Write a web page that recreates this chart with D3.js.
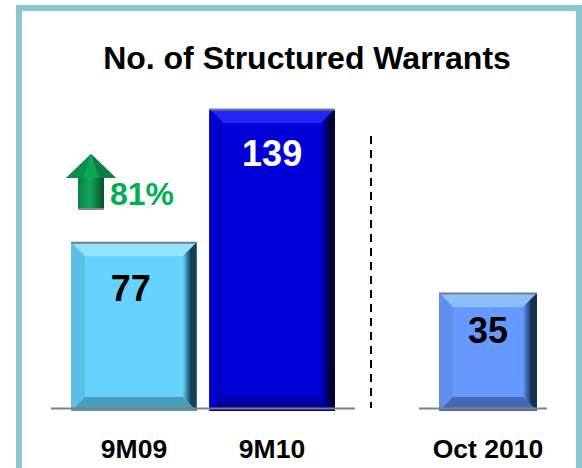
<!DOCTYPE html>
<html><head><meta charset="utf-8">
<script src="https://cdn.jsdelivr.net/npm/d3@7"></script>
<style>html,body{margin:0;padding:0;background:#fff;overflow:hidden}svg{display:block}text{font-family:"Liberation Sans",Arial,sans-serif;font-weight:bold}</style>
</head><body><svg id="c" width="582" height="468"></svg>
<script>
const title = "No. of Structured Warrants";
const periodCategories = ["9M09", "9M10"];
const periodValues = [77, 139];
const monthCategories = ["Oct 2010"];
const monthValues = [35];
const growthLabel = "81%";

const periodColors = [
  {face:"#66d2fd", top:"#93e2fe", left:"#5cc0e6", right:"#123f52", bottom:"#4a9cbc", text:"#000"},
  {face:"#0000d6", top:"#2828f4", left:"#0000c8", right:"#05053a", bottom:"#00009c", text:"#fff"}
];
const monthColors = [
  {face:"#6699ff", top:"#8cc0fd", left:"#5f90ec", right:"#12304f", bottom:"#4468b0", text:"#000"}
];
const valueOffsets = [59, 57, 50];
const valueNudge = [-3, 0, 0];

const svg = d3.select("#c");
const defs = svg.append("defs");
defs.append("filter").attr("id","soft").append("feGaussianBlur").attr("stdDeviation",0.7);
const frameColor = "#8ac7ce";
svg.append("rect").attr("x",19).attr("y",8).attr("width",560).attr("height",480)
  .attr("fill","#fff").attr("stroke",frameColor).attr("stroke-width",6);

svg.append("text").attr("x",307).attr("y",69).attr("text-anchor","middle")
  .attr("font-size",32).attr("fill","#000").text(title);

const baseY = 408;
const yPeriod = d3.scaleLinear().domain([0,139]).range([baseY,109]);
const yMonth = d3.scaleLinear().domain([0,35]).range([baseY,293]);
const xPeriod = d3.scaleBand().domain(periodCategories).range([71,335]).paddingInner(0.0909);
const xMonth = d3.scaleBand().domain(monthCategories).range([439,537]);

let n = 0;
function bar(cat, val, x, y, col){
  const bw = x.bandwidth(), l = x(cat), r = l+bw, t = y(val), b = baseY+3;
  const idx = n++;
  const g = svg.append("g").attr("filter","url(#soft)");
  const bev = 14;
  const poly = (pts,fill)=>g.append("polygon").attr("points",pts.map(p=>p.join(",")).join(" ")).attr("fill",fill);
  const rg = defs.append("linearGradient").attr("id","rg"+idx);
  rg.append("stop").attr("offset","0").attr("stop-color",col.face);
  rg.append("stop").attr("offset","0.6").attr("stop-color",col.right);
  rg.append("stop").attr("offset","1").attr("stop-color",col.right);
  g.append("rect").attr("x",l).attr("y",t).attr("width",bw).attr("height",b-t).attr("fill",col.face);
  poly([[l,t],[r,t],[r-bev,t+bev],[l+bev,t+bev]],col.top);
  poly([[l,t],[l+bev,t+bev],[l+bev,b-bev],[l,b]],col.left);
  poly([[r,t],[r-bev,t+bev],[r-bev,b-bev],[r,b]],"url(#rg"+idx+")");
  poly([[l,b],[l+bev,b-bev],[r-bev,b-bev],[r,b]],col.bottom);
  g.append("line").attr("x1",l).attr("x2",r).attr("y1",t+.5).attr("y2",t+.5).attr("stroke","#6f7f88").attr("stroke-width",2);
  svg.append("text").attr("x",(l+r)/2+valueNudge[idx]).attr("y",t+valueOffsets[idx]).attr("text-anchor","middle")
    .attr("font-size",36).attr("fill",col.text).text(val);
}
periodCategories.forEach((c,i)=>bar(c,periodValues[i],xPeriod,yPeriod,periodColors[i]));
monthCategories.forEach((c,i)=>bar(c,monthValues[i],xMonth,yMonth,monthColors[i]));

[[51,355],[419,547]].forEach(([a,b])=>svg.append("line").attr("x1",a).attr("x2",b)
  .attr("y1",408.5).attr("y2",408.5).attr("stroke","#808080").attr("stroke-width",2));

svg.append("line").attr("x1",371).attr("x2",371).attr("y1",136).attr("y2",408)
  .attr("stroke","#000").attr("stroke-width",2).attr("stroke-dasharray","8,6");

const labelY = 458;
periodCategories.forEach(c=>svg.append("text").attr("x",c==="9M09"?134:272).attr("y",labelY)
  .attr("text-anchor","middle").attr("font-size",26.5).attr("fill","#000").text(c));
monthCategories.forEach(c=>svg.append("text").attr("x",488).attr("y",labelY)
  .attr("text-anchor","middle").attr("font-size",26.5).attr("fill","#000").text(c));

// growth arrow
const ag = svg.append("g").attr("transform","translate(91,153)").attr("filter","url(#soft)");
const grad = defs.append("linearGradient").attr("id","shaft");
[["0","#0b7f44"],["0.45","#12a85a"],["1","#074f2d"]].forEach(([o,c])=>grad.append("stop").attr("offset",o).attr("stop-color",c));
ag.append("rect").attr("x",-13).attr("y",22).attr("width",26).attr("height",34).attr("fill","url(#shaft)");
ag.append("rect").attr("x",-13).attr("y",55).attr("width",26).attr("height",2).attr("fill","#7f8f86");
ag.append("polygon").attr("points","0,1 -25,25 25,25").attr("fill","#0ea657");
ag.append("polygon").attr("points","0,1 -25,25 -8,25").attr("fill","#0a8f4c");
ag.append("polygon").attr("points","0,1 25,25 8,25").attr("fill","#0c7f44");
svg.append("text").attr("x",110).attr("y",205).attr("font-size",32).attr("fill","#00b050").text(growthLabel);
</script></body></html>
